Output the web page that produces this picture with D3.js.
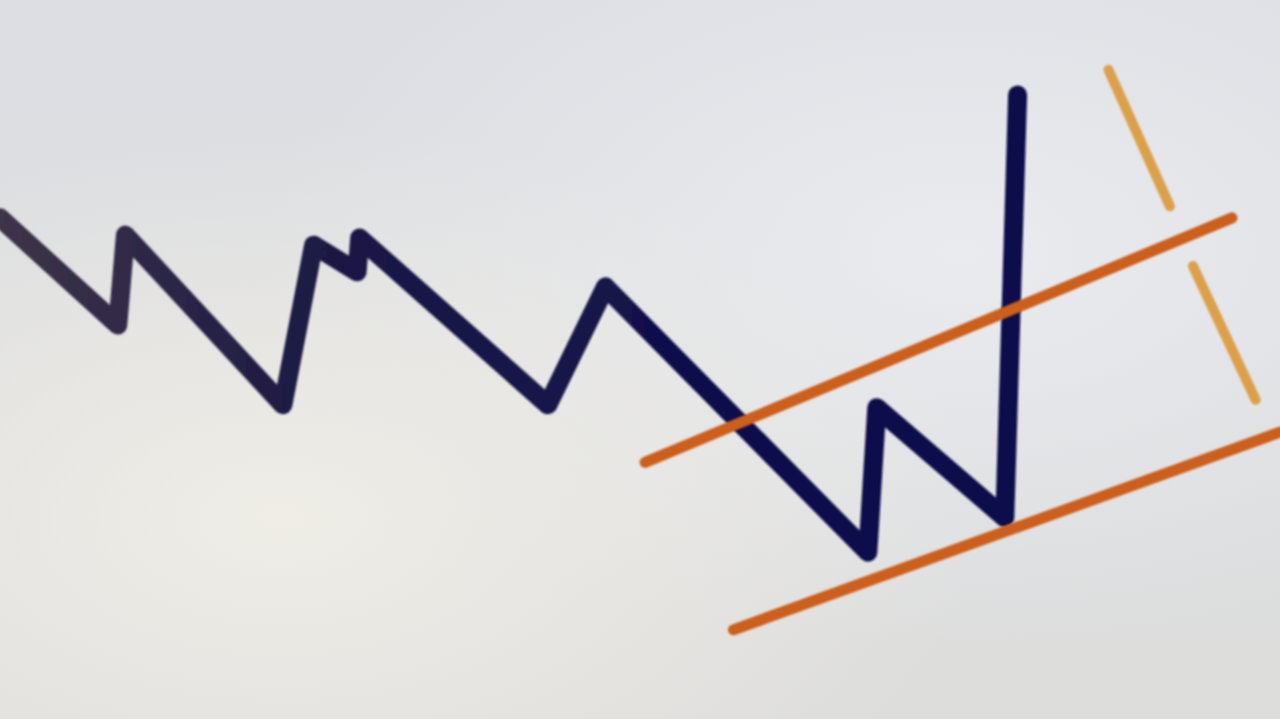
<!DOCTYPE html>
<html>
<head>
<meta charset="utf-8">
<script src="https://cdn.jsdelivr.net/npm/d3@7"></script>
<style>
  html, body { margin: 0; padding: 0; overflow: hidden; background: #dfe1e5; }
</style>
</head>
<body>
<div id="chart"></div>
<script>
var width = 1280;
var height = 719;

// price path (x = time index, y = price)
var priceX = [0, 9.2, 9.8, 22.1, 24.5, 27.9, 28.1, 42.8, 47.3, 67.8, 68.5, 78.5, 79.5];
var priceY = [69.7, 54.8, 67.3, 43.7, 65.9, 62.2, 66.9, 43.7, 60.1, 23.2, 43.3, 28.0, 86.8];

// channel trend lines [x1, y1, x2, y2]
var channelLines = [
  [50.4, 35.7, 96.25, 69.7],
  [57.3, 12.4, 100, 39.9]
];
// short gold markers
var markerLines = [
  [86.6, 90.3, 91.4, 71.3],
  [93.2, 63.0, 98.1, 44.4]
];

var x = d3.scaleLinear().domain([0, 100]).range([0, width]);
var y = d3.scaleLinear().domain([0, 100]).range([height, 0]);

var svg = d3.select('#chart').append('svg').attr('width', width).attr('height', height);

var defs = svg.append('defs');
var bg = defs.append('linearGradient').attr('id', 'bg')
  .attr('x1', 0).attr('y1', 0).attr('x2', 0).attr('y2', 1);
bg.append('stop').attr('offset', '0%').attr('stop-color', '#dcdee3');
bg.append('stop').attr('offset', '100%').attr('stop-color', '#dddddc');

var glow = defs.append('radialGradient').attr('id', 'glow')
  .attr('cx', 0.22).attr('cy', 0.72).attr('r', 0.55);
glow.append('stop').attr('offset', '0%').attr('stop-color', '#efede6').attr('stop-opacity', 1);
glow.append('stop').attr('offset', '100%').attr('stop-color', '#efede6').attr('stop-opacity', 0);

var glow2 = defs.append('radialGradient').attr('id', 'glow2')
  .attr('cx', 0.75).attr('cy', 0.35).attr('r', 0.55);
glow2.append('stop').attr('offset', '0%').attr('stop-color', '#e9ebef').attr('stop-opacity', 1);
glow2.append('stop').attr('offset', '100%').attr('stop-color', '#e9ebef').attr('stop-opacity', 0);

var lineGrad = defs.append('linearGradient').attr('id', 'lineGrad')
  .attr('gradientUnits', 'userSpaceOnUse')
  .attr('x1', 0).attr('y1', 0).attr('x2', 700).attr('y2', 0);
lineGrad.append('stop').attr('offset', '0%').attr('stop-color', '#3e3448');
lineGrad.append('stop').attr('offset', '45%').attr('stop-color', '#1c1a45');
lineGrad.append('stop').attr('offset', '100%').attr('stop-color', '#10104c');

defs.append('filter').attr('id', 'soft')
  .append('feGaussianBlur').attr('stdDeviation', 1.2);

svg.append('rect').attr('width', width).attr('height', height).attr('fill', 'url(#bg)');
svg.append('rect').attr('width', width).attr('height', height).attr('fill', 'url(#glow2)');
svg.append('rect').attr('width', width).attr('height', height).attr('fill', 'url(#glow)');

var points = priceX.map(function (d, i) { return [d, priceY[i]]; });

var line = d3.line()
  .x(function (d) { return x(d[0]); })
  .y(function (d) { return y(d[1]); });

svg.append('path')
  .datum(points)
  .attr('d', line)
  .attr('fill', 'none')
  .attr('stroke', 'url(#lineGrad)')
  .attr('stroke-width', 19)
  .attr('stroke-linejoin', 'round')
  .attr('stroke-linecap', 'round')
  .attr('filter', 'url(#soft)');

svg.selectAll('line.channel')
  .data(channelLines)
  .enter()
  .append('line')
  .attr('class', 'channel')
  .attr('x1', function (d) { return x(d[0]); })
  .attr('y1', function (d) { return y(d[1]); })
  .attr('x2', function (d) { return x(d[2]); })
  .attr('y2', function (d) { return y(d[3]); })
  .attr('stroke', '#cc5e1f')
  .attr('stroke-width', 11)
  .attr('stroke-linecap', 'round')
  .attr('filter', 'url(#soft)');

svg.selectAll('line.marker')
  .data(markerLines)
  .enter()
  .append('line')
  .attr('class', 'marker')
  .attr('x1', function (d) { return x(d[0]); })
  .attr('y1', function (d) { return y(d[1]); })
  .attr('x2', function (d) { return x(d[2]); })
  .attr('y2', function (d) { return y(d[3]); })
  .attr('stroke', '#dca04c')
  .attr('stroke-width', 10)
  .attr('stroke-linecap', 'round')
  .attr('filter', 'url(#soft)');
</script>
</body>
</html>
